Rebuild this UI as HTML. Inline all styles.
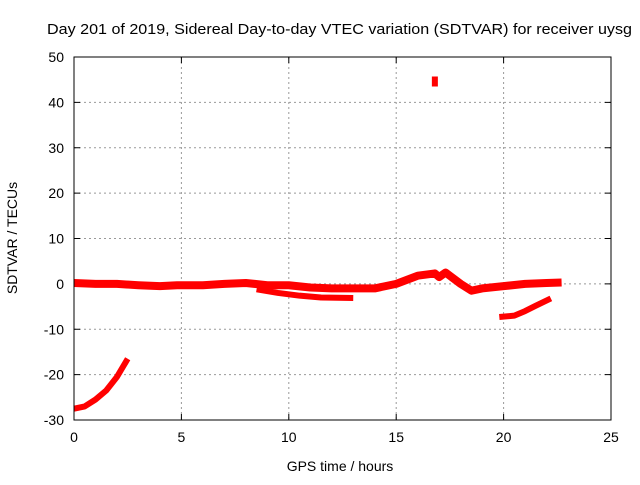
<!DOCTYPE html>
<html><head><meta charset="utf-8"><style>
body{margin:0;background:#fff}
svg text{font-family:"Liberation Sans",sans-serif;font-size:14px;fill:#000}
</style></head><body>
<svg width="640" height="480" id="chart">
<text x="47" y="34" textLength="585" lengthAdjust="spacingAndGlyphs" style="font-size:15px">Day 201 of 2019, Sidereal Day-to-day VTEC variation (SDTVAR) for receiver uysg</text>
<text x="340" y="471" text-anchor="middle">GPS time / hours</text>
<text transform="translate(17,238) rotate(-90)" text-anchor="middle">SDTVAR / TECUs</text>
<g id="grid"></g><g id="series"></g>
<rect x="74" y="57" width="537" height="363" fill="none" stroke="#000" stroke-width="1"/>
</svg>
<script>
const xTicks=[0,5,10,15,20,25];
const yTicks=[-30,-20,-10,0,10,20,30,40,50];
const mainBand=[[0,0.2],[1,0],[2,0],[3,-0.3],[4,-0.5],[4.8,-0.3],[6,-0.3],[7,0],[8,0.2],[9,-0.3],[10,-0.3],[11,-0.8],[12,-1],[13,-1],[14,-1],[15,0],[16,1.8],[16.8,2.3],[17,1.5],[17.3,2.5],[18,0],[18.5,-1.5],[19,-1],[20,-0.5],[21,0],[22,0.2],[22.7,0.3]];
const lowerBand=[[8.5,-1.2],[9.5,-2],[10.5,-2.6],[11.5,-3],[13,-3.1]];
const earlyCurve=[[0,-27.5],[0.5,-27],[1,-25.5],[1.5,-23.5],[2,-20.5],[2.5,-16.5]];
const lateCurve=[[19.8,-7.3],[20.5,-7],[21,-6],[21.5,-4.8],[22.2,-3.2]];
const outlier=[[16.8,44.6]];
const X=v=>74+v*537/25, Y=v=>420-(v+30)*363/80;
const ns='http://www.w3.org/2000/svg';
const g=document.getElementById('grid'), s=document.getElementById('series');
function mk(tag,at,par){const e=document.createElementNS(ns,tag);for(const k in at)e.setAttribute(k,at[k]);par.appendChild(e);return e;}
xTicks.forEach(t=>{
 if(t>0&&t<25){const l=mk('line',{x1:X(t),x2:X(t),y1:57,y2:420,stroke:'#999','stroke-dasharray':'2,3'},g);
 
 }
 const tx=mk('text',{x:X(t),y:442,'text-anchor':'middle'},g);tx.textContent=t;
 
 
 mk('line',{x1:X(t),x2:X(t),y1:420,y2:414,stroke:'#000'},g);
 mk('line',{x1:X(t),x2:X(t),y1:57,y2:63,stroke:'#000'},g);
});
yTicks.forEach(t=>{
 if(t>-30&&t<50){const l=mk('line',{x1:74,x2:611,y1:Y(t),y2:Y(t),stroke:'#999','stroke-dasharray':'2,3'},g);
 
 }
 const tx=mk('text',{x:64,y:Y(t)+5,'text-anchor':'end'},g);tx.textContent=t;
 
 
 mk('line',{x1:74,x2:80,y1:Y(t),y2:Y(t),stroke:'#000'},g);
 mk('line',{x1:611,x2:605,y1:Y(t),y2:Y(t),stroke:'#000'},g);
});
function line(d,name,w){
 const p=mk('polyline',{points:d.map(q=>X(q[0])+','+Y(q[1])).join(' '),fill:'none',stroke:'#f00','stroke-width':w,'stroke-linejoin':'round'},s);
 
 
}
line(mainBand,'main-band-series',8);
line(lowerBand,'lower-band-series',6);
line(earlyCurve,'early-curve-series',6);
line(lateCurve,'late-curve-series',6);
outlier.forEach(q=>{const r=mk('rect',{x:X(q[0])-3,y:Y(q[1])-5,width:6,height:10,fill:'#f00'},s);
 
 });
</script>
</body></html>
